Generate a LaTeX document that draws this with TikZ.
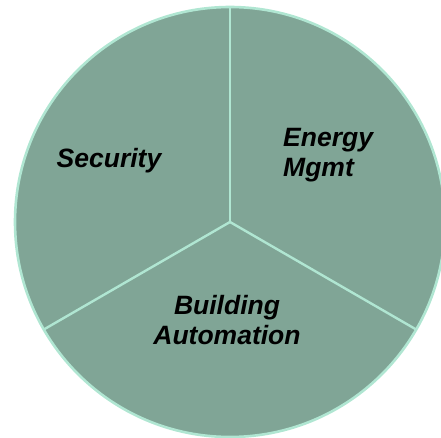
\documentclass[tikz,border=0pt]{standalone}
\usepackage{fontspec}
\setsansfont{Liberation Sans}
\usetikzlibrary{positioning}
\definecolor{sage}{HTML}{80A596}
\definecolor{mint}{HTML}{B0E6D2}
\tikzset{
  disc/.style={fill=sage},
  rim/.style={draw=mint, line width=2.6pt},
  divider/.style={draw=mint, line width=2.4pt},
  sectortext/.style={font=\fontsize{26.5}{30}\selectfont\sffamily\bfseries\itshape, text=black, inner sep=0pt}
}

\begin{document}
\begin{tikzpicture}[x=1pt, y=-1pt]
    \useasboundingbox (0,0) rectangle (441,438);
    \clip (0,0) rectangle (441,438);
    \coordinate (hub) at (230,222);

    % pie body and the three spokes
    \fill[disc] (hub) circle (215pt);
    \foreach \ang/\name in {90/top, 210/lowleft, 330/lowright}
        \draw[divider] (hub) -- ++(\ang:215pt) coordinate (\name);
    \draw[rim] (hub) circle (215pt);

    \node[sectortext] (security) at (109,161) {Security};
    \node[sectortext, align=left, anchor=west] (energy) at (283,155) {Energy\\Mgmt};
    \node[sectortext, align=center] (building) at (227,320) {Building\\Automation};
\end{tikzpicture}
\end{document}
